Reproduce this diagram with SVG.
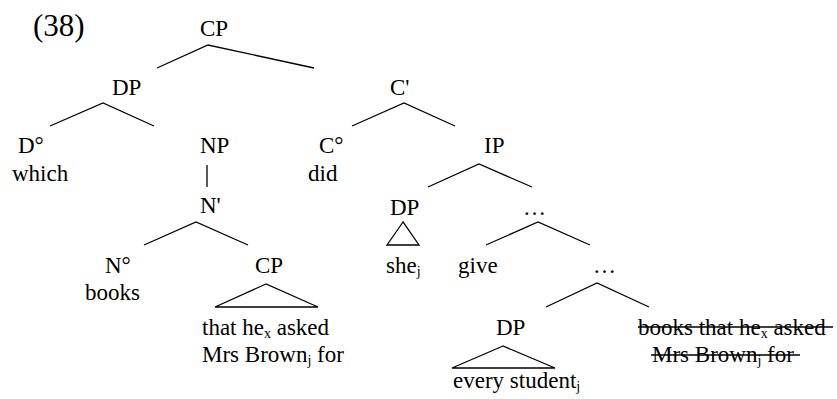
<svg xmlns="http://www.w3.org/2000/svg" width="837" height="399" viewBox="0 0 837 399">
<style>
text,tspan{font-family:"Liberation Serif","Times New Roman",Times,serif !important;fill:#000}
text{font-size:23px}
.big{font-size:31px}
.sub{font-size:14px}
.e{stroke:#000;stroke-width:1.3;fill:none}
</style>
<rect width="837" height="399" fill="#fff"/>
<text class="big" x="33" y="36">(38)</text>
<g id="connectors">
<path class="e" d="M157,68L208,45L314,68"/>
<path class="e" d="M50,126L103,103L154,126"/>
<path class="e" d="M352,126L404,103L455,126"/>
<path class="e" d="M428,187L479,164L532,187"/>
<path class="e" d="M207,165V187"/>
<path class="e" d="M144,245L196,222L248,245"/>
<path class="e" d="M486,245L538,222L590,245"/>
<path class="e" d="M403,222L387,245H419Z"/>
<path class="e" d="M266,284L215,307H318Z"/>
<path class="e" d="M546,307L597,283L649,307"/>
<path class="e" d="M503,346L452,368H555Z"/>
</g>
<g id="cp"><text x="200" y="36">CP</text></g>
<g id="dp1"><text x="112" y="95">DP</text></g>
<g id="cbar"><text x="390" y="95">C'</text></g>
<g id="d0"><text x="18" y="153">D°</text><text x="12" y="181">which</text></g>
<g id="np"><text x="200" y="153">NP</text></g>
<g id="c0"><text x="319" y="153">C°</text><text x="308" y="181">did</text></g>
<g id="ip"><text x="484" y="153">IP</text></g>
<g id="nbar"><text x="200" y="213">N'</text></g>
<g id="dp2"><text x="390" y="215">DP</text><text x="386" y="273">she<tspan class="sub" dy="3">j</tspan></text></g>
<g id="dots1"><text x="523" y="215">…</text></g>
<g id="n0"><text x="105" y="273">N°</text><text x="85" y="300">books</text></g>
<g id="cp2"><text x="255" y="273">CP</text>
<text x="202" y="335">that he<tspan class="sub" dy="3">x</tspan><tspan dy="-3"> asked</tspan></text>
<text x="202" y="362">Mrs Brown<tspan class="sub" dy="3">j</tspan><tspan dy="-3"> for</tspan></text></g>
<g id="give"><text x="458" y="273">give</text></g>
<g id="dots2"><text x="593" y="273">…</text></g>
<g id="dp3"><text x="496" y="335">DP</text><text x="453" y="388">every student<tspan class="sub" dy="3">j</tspan></text></g>
<g id="trace">
<text x="638" y="335">books that he<tspan class="sub" dy="3">x</tspan><tspan dy="-3"> asked</tspan></text>
<text x="652" y="362">Mrs Brown<tspan class="sub" dy="3">j</tspan><tspan dy="-3"> for</tspan></text>
<path class="e" d="M638,327H833M651,355H800"/>
</g>
</svg>
